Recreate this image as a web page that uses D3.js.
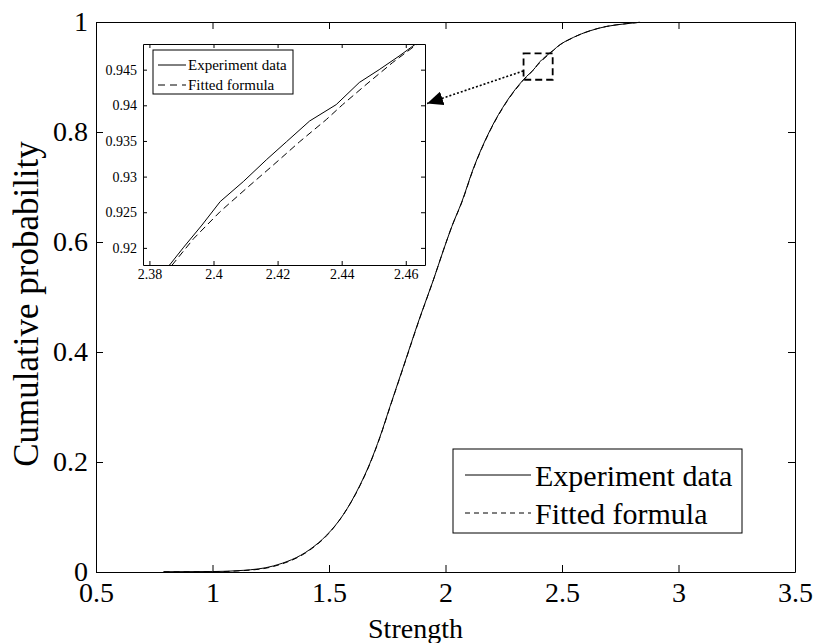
<!DOCTYPE html>
<html>
<head>
<meta charset="utf-8">
<script src="https://cdn.jsdelivr.net/npm/d3@7"></script>
<style>
  body { margin: 0; background: #fff; }
  text { font-family: "Liberation Serif", "Times New Roman", serif; fill: #000; }
</style>
</head>
<body>
<div id="chart"></div>
<script>
/*------------------------------------------*/
/*            Data                          */
/*------------------------------------------*/

var seriesNames = ["Experiment data", "Fitted formula"];

var expStrength = [0.79, 1.00, 1.132, 1.261, 1.418, 1.490, 1.561, 1.633, 1.676, 1.719,
    1.762, 1.819, 1.891, 1.948, 1.991, 2.027, 2.070, 2.119, 2.191, 2.263, 2.334,
    2.3863, 2.3907, 2.3964, 2.4021, 2.4093, 2.4166, 2.4228, 2.4300, 2.4383, 2.4455,
    2.4517, 2.4579, 2.4631, 2.477, 2.549, 2.620, 2.692, 2.778, 2.835];
var expProb = [0.0005, 0.0008, 0.003, 0.011, 0.041, 0.067, 0.104, 0.158, 0.198, 0.246,
    0.301, 0.373, 0.464, 0.531, 0.585, 0.628, 0.673, 0.733, 0.803, 0.856, 0.895,
    0.9176, 0.9201, 0.9232, 0.9265, 0.9293, 0.9324, 0.9349, 0.9378, 0.9401, 0.9432,
    0.9450, 0.9469, 0.9486, 0.954, 0.972, 0.984, 0.992, 0.997, 0.9995];

var fitStrength = [0.79, 1.00, 1.132, 1.261, 1.418, 1.490, 1.561, 1.633, 1.676, 1.719,
    1.762, 1.819, 1.891, 1.948, 1.991, 2.027, 2.070, 2.119, 2.191, 2.263, 2.334,
    2.3871, 2.3938, 2.4021, 2.4104, 2.4186, 2.4269, 2.4352, 2.4403, 2.4476, 2.4559,
    2.4636, 2.477, 2.549, 2.620, 2.692, 2.778, 2.835];
var fitProb = [0.0003, 0.0006, 0.0025, 0.010, 0.040, 0.066, 0.104, 0.157, 0.197, 0.245,
    0.300, 0.372, 0.463, 0.531, 0.585, 0.628, 0.672, 0.732, 0.802, 0.855, 0.894,
    0.9176, 0.9213, 0.9251, 0.9284, 0.9316, 0.9349, 0.9380, 0.9401, 0.9429, 0.9460,
    0.9486, 0.9538, 0.9718, 0.984, 0.992, 0.997, 0.9995];

var xTicks = [0.5, 1, 1.5, 2, 2.5, 3, 3.5],
    yTicks = [0, 0.2, 0.4, 0.6, 0.8, 1];
var insetXTicks = [2.38, 2.4, 2.42, 2.44, 2.46],
    insetYTicks = [0.92, 0.925, 0.93, 0.935, 0.94, 0.945];

var xDomain = [0.5, 3.5], yDomain = [0, 1];
var insetXDomain = [2.378, 2.466], insetYDomain = [0.9176, 0.9486];

// zoom box and arrow, in main axis units
var zoomBoxX = [2.335, 2.46], zoomBoxY = [0.895, 0.943];
var arrowFrom = [2.334, 0.911], arrowTo = [1.921, 0.852];

/*------------------------------------------*/
/*            Layout                        */
/*------------------------------------------*/

var svgWidth = 816, svgHeight = 643;
var margin = {top: 22, left: 96};
var width = 699, height = 550;

var inset = {left: 47, top: 22, width: 282, height: 221};

var svg = d3.select("#chart").append("svg")
    .attr("width", svgWidth)
    .attr("height", svgHeight);

var chart = svg.append("g")
    .attr("transform", "translate(" + margin.left + "," + margin.top + ")");

var x = d3.scaleLinear().domain(xDomain).range([0, width]),
    y = d3.scaleLinear().domain(yDomain).range([height, 0]);

var expData = d3.zip(expStrength, expProb),
    fitData = d3.zip(fitStrength, fitProb);

/*------------------------------------------*/
/*            Axes helper                   */
/*------------------------------------------*/

function drawFrame(g, xs, ys, w, h, xt, yt, tick, fontSize, padX, padY) {
  var bottom = g.append("g").attr("transform", "translate(0," + h + ")")
      .call(d3.axisBottom(xs).tickValues(xt).tickSize(-tick).tickSizeOuter(0)
        .tickPadding(padX).tickFormat(d3.format("")));
  var left = g.append("g")
      .call(d3.axisLeft(ys).tickValues(yt).tickSize(-tick).tickSizeOuter(0)
        .tickPadding(padY).tickFormat(d3.format("")));
  g.append("g")
      .call(d3.axisTop(xs).tickValues(xt).tickSize(-tick).tickSizeOuter(0).tickFormat(""));
  g.append("g").attr("transform", "translate(" + w + ",0)")
      .call(d3.axisRight(ys).tickValues(yt).tickSize(-tick).tickSizeOuter(0).tickFormat(""));

  g.selectAll(".domain, .tick line").attr("stroke", "#000").attr("stroke-width", 1);
  [bottom, left].forEach(function(a) {
    a.attr("font-family", null).attr("font-size", null);
    a.selectAll("text").style("font-size", fontSize + "px");
  });
}

/*------------------------------------------*/
/*            Main chart                    */
/*------------------------------------------*/

var line = d3.line()
    .curve(d3.curveMonotoneX)
    .x(function(d) { return x(d[0]); })
    .y(function(d) { return y(d[1]); });

chart.append("path")
    .datum(fitData)
    .attr("d", line)
    .attr("fill", "none")
    .attr("stroke", "#000")
    .attr("stroke-width", 1)
    .attr("stroke-dasharray", "6,4");

chart.append("path")
    .datum(expData)
    .attr("d", line)
    .attr("fill", "none")
    .attr("stroke", "#000")
    .attr("stroke-width", 1);

drawFrame(chart, x, y, width, height, xTicks, yTicks, 7, 28, 10, 8);

chart.append("text")
    .attr("x", width / 2 - 30)
    .attr("y", height + 66)
    .attr("text-anchor", "middle")
    .style("font-size", "28px")
    .text("Strength");

chart.append("text")
    .attr("transform", "translate(" + (-58) + "," + (height / 2 + 7) + ") rotate(-90)")
    .attr("text-anchor", "middle")
    .style("font-size", "35px")
    .text("Cumulative probability");

// zoom box
chart.append("rect")
    .attr("x", x(zoomBoxX[0]))
    .attr("y", y(zoomBoxY[1]))
    .attr("width", x(zoomBoxX[1]) - x(zoomBoxX[0]))
    .attr("height", y(zoomBoxY[0]) - y(zoomBoxY[1]))
    .attr("fill", "none")
    .attr("stroke", "#000")
    .attr("stroke-width", 1.8)
    .attr("stroke-dasharray", "7,4");

// arrow
svg.append("defs").append("marker")
    .attr("id", "head")
    .attr("viewBox", "0 -7 16 14")
    .attr("refX", 16).attr("refY", 0)
    .attr("markerWidth", 16).attr("markerHeight", 14)
    .attr("markerUnits", "userSpaceOnUse")
    .attr("orient", "auto")
  .append("path")
    .attr("d", "M0,-7L16,0L0,7Z")
    .attr("fill", "#000");

chart.append("line")
    .attr("x1", x(arrowFrom[0])).attr("y1", y(arrowFrom[1]))
    .attr("x2", x(arrowTo[0])).attr("y2", y(arrowTo[1]))
    .attr("stroke", "#000")
    .attr("stroke-width", 1.6)
    .attr("stroke-dasharray", "2,2")
    .attr("marker-end", "url(#head)");

// main legend
var legend = chart.append("g").attr("transform", "translate(357,427)");

legend.append("rect")
    .attr("width", 289).attr("height", 84)
    .attr("fill", "#fff").attr("stroke", "#000").attr("stroke-width", 1);

legend.selectAll("line.key")
    .data(seriesNames)
    .enter().append("line")
    .attr("class", "key")
    .attr("x1", 12).attr("x2", 78)
    .attr("y1", function(d, i) { return 26 + 38 * i; })
    .attr("y2", function(d, i) { return 26 + 38 * i; })
    .attr("stroke", "#000")
    .attr("stroke-dasharray", function(d, i) { return i ? "5,4" : null; });

legend.selectAll("text")
    .data(seriesNames)
    .enter().append("text")
    .attr("x", 82)
    .attr("y", function(d, i) { return 26 + 38 * i; })
    .attr("dy", "0.35em")
    .style("font-size", "30px")
    .text(function(d) { return d; });

/*------------------------------------------*/
/*            Inset                         */
/*------------------------------------------*/

var ig = chart.append("g")
    .attr("transform", "translate(" + inset.left + "," + inset.top + ")");

ig.append("rect")
    .attr("width", inset.width).attr("height", inset.height)
    .attr("fill", "#fff");

var ix = d3.scaleLinear().domain(insetXDomain).range([0, inset.width]),
    iy = d3.scaleLinear().domain(insetYDomain).range([inset.height, 0]);

svg.select("defs").append("clipPath")
    .attr("id", "insetClip")
  .append("rect")
    .attr("width", inset.width).attr("height", inset.height);

var iline = d3.line()
    .x(function(d) { return ix(d[0]); })
    .y(function(d) { return iy(d[1]); });

var plot = ig.append("g").attr("clip-path", "url(#insetClip)");

plot.append("path")
    .datum(fitData)
    .attr("d", iline)
    .attr("fill", "none")
    .attr("stroke", "#000")
    .attr("stroke-dasharray", "7,4");

plot.append("path")
    .datum(expData)
    .attr("d", iline)
    .attr("fill", "none")
    .attr("stroke", "#000");

drawFrame(ig, ix, iy, inset.width, inset.height, insetXTicks, insetYTicks, 4, 14, 4, 6);

// inset legend
var ilegend = ig.append("g").attr("transform", "translate(10,6)");

ilegend.append("rect")
    .attr("width", 140).attr("height", 44)
    .attr("fill", "#fff").attr("stroke", "#000");

ilegend.selectAll("line.key")
    .data(seriesNames)
    .enter().append("line")
    .attr("class", "key")
    .attr("x1", 5).attr("x2", 33)
    .attr("y1", function(d, i) { return 15 + 20 * i; })
    .attr("y2", function(d, i) { return 15 + 20 * i; })
    .attr("stroke", "#000")
    .attr("stroke-dasharray", function(d, i) { return i ? "7,5" : null; });

ilegend.selectAll("text")
    .data(seriesNames)
    .enter().append("text")
    .attr("x", 35)
    .attr("y", function(d, i) { return 15 + 20 * i; })
    .attr("dy", "0.35em")
    .style("font-size", "15px")
    .text(function(d) { return d; });
</script>
</body>
</html>
